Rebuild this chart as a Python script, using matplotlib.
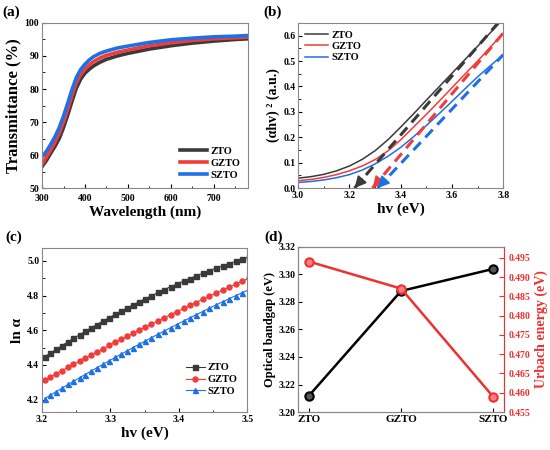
import numpy as np
import matplotlib
matplotlib.use("Agg")
import matplotlib.pyplot as plt
from matplotlib.ticker import MultipleLocator

plt.rcParams["font.family"] = ["Liberation Serif", "DejaVu Serif"]
plt.rcParams["font.weight"] = "bold"
plt.rcParams["axes.labelweight"] = "bold"
plt.rcParams["axes.linewidth"] = 0.8
plt.rcParams["xtick.direction"] = "in"
plt.rcParams["ytick.direction"] = "in"

# ---- (a) transmittance ----
wl = [300, 310, 320, 330, 340, 350, 360, 370, 380, 390, 400, 410, 420, 435, 450,
      475, 500, 550, 600, 650, 700, 750, 780]
t_zto = [56.5, 58.3, 60.5, 62.6, 65.0, 68.3, 72.2, 76.4, 80.3, 83.0, 84.8, 86.0,
         87.0, 88.1, 89.0, 90.0, 90.8, 92.1, 93.1, 93.9, 94.5, 95.0, 95.2]
t_gzto = [57.2, 59.3, 61.5, 63.9, 66.6, 70.0, 74.0, 78.2, 81.9, 84.4, 86.0, 87.3,
          88.3, 89.4, 90.2, 91.1, 91.8, 93.1, 94.0, 94.7, 95.2, 95.5, 95.7]
t_szto = [59.5, 61.1, 63.2, 65.5, 68.3, 71.8, 75.8, 79.9, 83.5, 85.9, 87.5, 88.8,
          89.8, 90.8, 91.5, 92.4, 93.0, 94.1, 94.9, 95.4, 95.8, 96.0, 96.2]

# ---- (b) Tauc plot ----
hv_b = [3.0, 3.05, 3.1, 3.15, 3.2, 3.25, 3.3, 3.35, 3.4, 3.45, 3.5, 3.55, 3.6,
        3.65, 3.7, 3.75, 3.8]
ah_zto = [0.039, 0.045, 0.054, 0.068, 0.087, 0.113, 0.147, 0.190, 0.240, 0.292,
          0.346, 0.399, 0.452, 0.505, 0.558, 0.612, 0.666]
ah_gzto = [0.029, 0.034, 0.042, 0.053, 0.068, 0.087, 0.112, 0.146, 0.190, 0.240,
           0.290, 0.342, 0.395, 0.448, 0.500, 0.555, 0.610]
ah_szto = [0.022, 0.026, 0.032, 0.041, 0.053, 0.071, 0.095, 0.125, 0.160, 0.202,
           0.246, 0.293, 0.341, 0.390, 0.438, 0.482, 0.525]
fit_x0 = [3.22, 3.29, 3.31]
fit_x1 = [3.78, 3.80, 3.80]
fit_y1 = [0.650, 0.610, 0.525]

# ---- (c) ln(alpha) vs hv ----
hv_c = [3.204, 3.212, 3.221, 3.229, 3.238, 3.246, 3.255, 3.263, 3.272, 3.280,
        3.289, 3.298, 3.307, 3.316, 3.324, 3.333, 3.342, 3.351, 3.360, 3.370,
        3.379, 3.388, 3.397, 3.407, 3.416, 3.425, 3.435, 3.444, 3.454, 3.464,
        3.473, 3.483, 3.493, 3.503]
ln_zto = [4.447, 4.467, 4.490, 4.511, 4.533, 4.553, 4.574, 4.593, 4.614, 4.632,
          4.653, 4.672, 4.692, 4.711, 4.728, 4.746, 4.764, 4.782, 4.799, 4.818,
          4.835, 4.851, 4.866, 4.884, 4.898, 4.913, 4.929, 4.943, 4.958, 4.972,
          4.984, 4.998, 5.011, 5.024]
ln_gzto = [4.313, 4.330, 4.350, 4.367, 4.386, 4.403, 4.422, 4.439, 4.458, 4.474,
           4.493, 4.512, 4.530, 4.548, 4.564, 4.582, 4.600, 4.618, 4.636, 4.655,
           4.673, 4.690, 4.707, 4.726, 4.743, 4.760, 4.779, 4.795, 4.814, 4.832,
           4.848, 4.866, 4.884, 4.901]
ln_szto = [4.206, 4.225, 4.246, 4.265, 4.287, 4.305, 4.326, 4.344, 4.365, 4.383,
           4.403, 4.423, 4.443, 4.463, 4.480, 4.500, 4.519, 4.538, 4.557, 4.578,
           4.596, 4.615, 4.633, 4.653, 4.671, 4.689, 4.708, 4.726, 4.745, 4.764,
           4.781, 4.799, 4.817, 4.835]

# ---- (d) bandgap / Urbach ----
samples = ["ZTO", "GZTO", "SZTO"]
bandgap = [3.212, 3.288, 3.304]
urbach = [0.494, 0.487, 0.459]

labels = ["ZTO", "GZTO", "SZTO"]
c_blk = "#3a3a3a"
c_red = "#f23b3b"
c_blu = "#1f6fe6"
colors = [c_blk, c_red, c_blu]

fig = plt.figure(figsize=(5.5, 4.5), dpi=100)
ax_a = fig.add_axes([0.0764, 0.582, 0.375, 0.367])
ax_b = fig.add_axes([0.542, 0.582, 0.373, 0.367])
ax_c = fig.add_axes([0.0764, 0.0844, 0.373, 0.3646])
ax_d = fig.add_axes([0.542, 0.0844, 0.3745, 0.3668])

tick_fs = 7
lab_fs = 11

# (a)
for y, c, lab in zip([t_zto, t_gzto, t_szto], colors, labels):
    ax_a.plot(wl, y, color=c, lw=2.6, label=lab, solid_joinstyle="round")
ax_a.set_xlim(300, 780)
ax_a.set_ylim(50, 100)
ax_a.xaxis.set_major_locator(MultipleLocator(100))
ax_a.xaxis.set_minor_locator(MultipleLocator(50))
ax_a.yaxis.set_major_locator(MultipleLocator(10))
ax_a.yaxis.set_minor_locator(MultipleLocator(5))
ax_a.set_xlabel("Wavelength (nm)", fontsize=11, labelpad=2)
ax_a.set_ylabel("Transmittance (%)", fontsize=12, labelpad=2)
ax_a.legend(loc="lower right", frameon=False, fontsize=7.5, handlelength=2.6,
            handletextpad=0.3, labelspacing=0.25, borderaxespad=0.4)

# (b)
for y, c, lab in zip([ah_zto, ah_gzto, ah_szto], colors, labels):
    ax_b.plot(hv_b, y, color=c, lw=1.1, label=lab)
for x0, x1, y1, c in zip(fit_x0, fit_x1, fit_y1, colors):
    ax_b.plot([x0, x1], [0.0, y1], color=c, lw=2.2, ls=(0, (3.5, 2.2)))
    ax_b.annotate("", xy=(x0, 0.0), xytext=(x0 + 0.03, 0.03 * y1 / (x1 - x0)),
                  arrowprops=dict(arrowstyle="-|>,head_length=0.7,head_width=0.35",
                                  color=c, lw=1.2, shrinkA=0, shrinkB=0))
ax_b.set_xlim(3.0, 3.8)
ax_b.set_ylim(0.0, 0.65)
ax_b.xaxis.set_major_locator(MultipleLocator(0.2))
ax_b.xaxis.set_minor_locator(MultipleLocator(0.1))
ax_b.yaxis.set_major_locator(MultipleLocator(0.1))
ax_b.yaxis.set_minor_locator(MultipleLocator(0.05))
ax_b.set_xlabel("hv (eV)", fontsize=lab_fs, labelpad=2)
ax_b.set_ylabel("(αhv) ² (a.u.)", fontsize=lab_fs - 1, labelpad=2)
ax_b.legend(loc="upper left", frameon=False, fontsize=7.5, handlelength=2.2,
            handletextpad=0.3, labelspacing=0.2, borderaxespad=0.3)

# (c)
markers = ["s", "o", "^"]
for y, c, m, lab in zip([ln_zto, ln_gzto, ln_szto], colors, markers, labels):
    ax_c.plot(hv_c, y, color=c, lw=0.8, marker=m, ms=3.6, label=lab)
ax_c.set_xlim(3.2, 3.5)
ax_c.set_ylim(4.128, 5.075)
ax_c.xaxis.set_major_locator(MultipleLocator(0.1))
ax_c.xaxis.set_minor_locator(MultipleLocator(0.05))
ax_c.yaxis.set_major_locator(MultipleLocator(0.2))
ax_c.yaxis.set_minor_locator(MultipleLocator(0.1))
ax_c.set_xlabel("hv (eV)", fontsize=lab_fs, labelpad=2)
ax_c.set_ylabel("ln α", fontsize=lab_fs, labelpad=2)
ax_c.legend(loc="lower right", bbox_to_anchor=(1.0, 0.04), frameon=False, fontsize=7.5,
            handlelength=1.8, handletextpad=0.3, labelspacing=0.25)

# (d)
xd = np.arange(len(samples))
ax_d.plot(xd, bandgap, color="black", lw=1.8, marker="o", ms=6,
          mfc="#555555", mec="black", mew=1.5)
ax_d.set_xlim(-0.12, 2.12)
ax_d.set_ylim(3.20, 3.32)
ax_d.set_xticks(xd)
ax_d.set_xticklabels(samples)
ax_d.yaxis.set_major_locator(MultipleLocator(0.02))
ax_d.set_ylabel("Optical bandgap (eV)", fontsize=9, labelpad=2)
ax_d2 = ax_d.twinx()
ax_d2.plot(xd, urbach, color="#f03030", lw=1.8, marker="o", ms=6,
           mfc="#ff8080", mec="#f03030", mew=1.5)
ax_d2.set_ylim(0.455, 0.4978)
ax_d2.yaxis.set_major_locator(MultipleLocator(0.005))
ax_d2.set_ylabel("Urbach energy (eV)", fontsize=10, color="#f03030", labelpad=3)
ax_d2.tick_params(axis="y", colors="#f03030", labelsize=tick_fs, direction="in")
ax_d2.yaxis.set_major_formatter(plt.FormatStrFormatter("%.3f"))

for ax in [ax_a, ax_b, ax_c, ax_d]:
    ax.tick_params(which="both", labelsize=tick_fs, pad=2)
    ax.tick_params(which="major", length=3)
    ax.tick_params(which="minor", length=1.8)
    for s in ax.spines.values():
        s.set_color("#888888")
ax_a.tick_params(axis="x", pad=4)
ax_d.tick_params(axis="x", labelsize=8)
ax_a.yaxis.set_major_formatter(plt.FormatStrFormatter("%d"))
ax_d.yaxis.set_major_formatter(plt.FormatStrFormatter("%.2f"))
for s in ax_d2.spines.values():
    s.set_color("#888888")
ax_d2.spines["right"].set_color("#f03030")

fig.text(0.004, 0.972, "(a)", fontsize=11, fontweight="bold", va="center")
fig.text(0.478, 0.972, "(b)", fontsize=11, fontweight="bold", va="center")
fig.text(0.009, 0.473, "(c)", fontsize=11, fontweight="bold", va="center")
fig.text(0.481, 0.473, "(d)", fontsize=11, fontweight="bold", va="center")

fig.savefig("out.png", dpi=100)
